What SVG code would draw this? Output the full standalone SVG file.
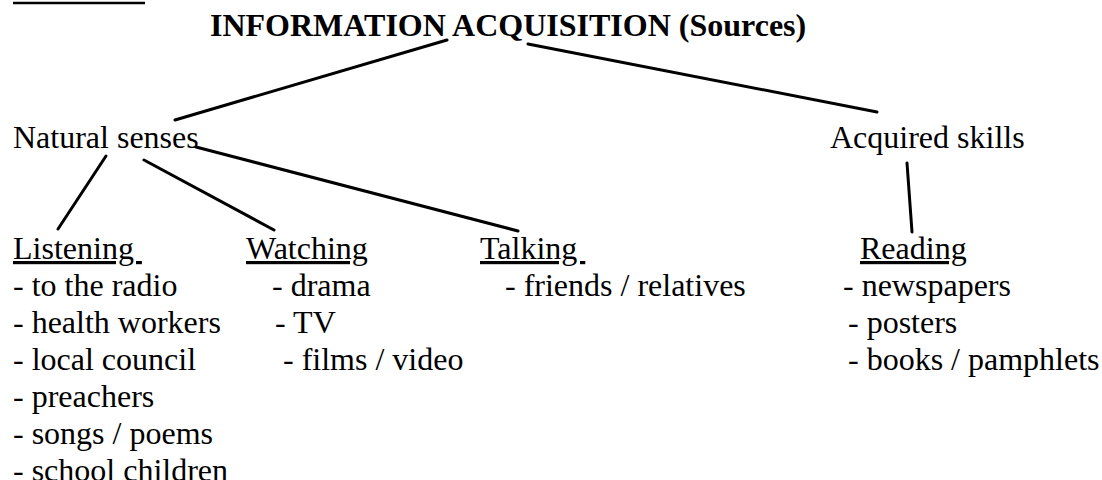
<svg xmlns="http://www.w3.org/2000/svg" width="1102" height="480" viewBox="0 0 1102 480">
<style>
.t{font-family:"Liberation Serif","Times New Roman",serif;font-size:32px;fill:#000}
.b{font-weight:bold}
.u{text-decoration:underline}
.c{stroke:#000;stroke-width:3;fill:none;stroke-linecap:round}
</style>
<rect width="1102" height="480" fill="#fff"/>
<line x1="13" y1="3" x2="145" y2="3" stroke="#000" stroke-width="2.5"/>
<g id="root"><text class="t b" x="210" y="36">INFORMATION ACQUISITION (Sources)</text></g>
<g id="natural"><text class="t" x="13" y="148">Natural senses</text></g>
<g id="acquired"><text class="t" x="830" y="148">Acquired skills</text></g>
<g id="listening">
<text class="t u" x="13" y="259" xml:space="preserve">Listening </text>
<text class="t" x="13" y="296">- to the radio</text>
<text class="t" x="13" y="333">- health workers</text>
<text class="t" x="13" y="370">- local council</text>
<text class="t" x="13" y="407">- preachers</text>
<text class="t" x="13" y="444">- songs / poems</text>
<text class="t" x="13" y="481">- school children</text>
</g>
<g id="watching">
<text class="t u" x="246" y="259">Watching</text>
<text class="t" x="272" y="296">- drama</text>
<text class="t" x="275" y="333">- TV</text>
<text class="t" x="283" y="370">- films / video</text>
</g>
<g id="talking">
<text class="t u" x="480" y="259" xml:space="preserve">Talking </text>
<text class="t" x="505" y="296">- friends / relatives</text>
</g>
<g id="reading">
<text class="t u" x="860" y="259">Reading</text>
<text class="t" x="843" y="296">- newspapers</text>
<text class="t" x="848" y="333">- posters</text>
<text class="t" x="848" y="370">- books / pamphlets</text>
</g>
<g id="connectors">
<line class="c" x1="447" y1="40" x2="175" y2="120"/>
<line class="c" x1="528" y1="44" x2="877" y2="112"/>
<line class="c" x1="106" y1="156" x2="58" y2="229"/>
<line class="c" x1="144" y1="160" x2="274" y2="230"/>
<line class="c" x1="196" y1="147" x2="518" y2="231"/>
<line class="c" x1="907" y1="163" x2="912" y2="232"/>
</g>
</svg>
